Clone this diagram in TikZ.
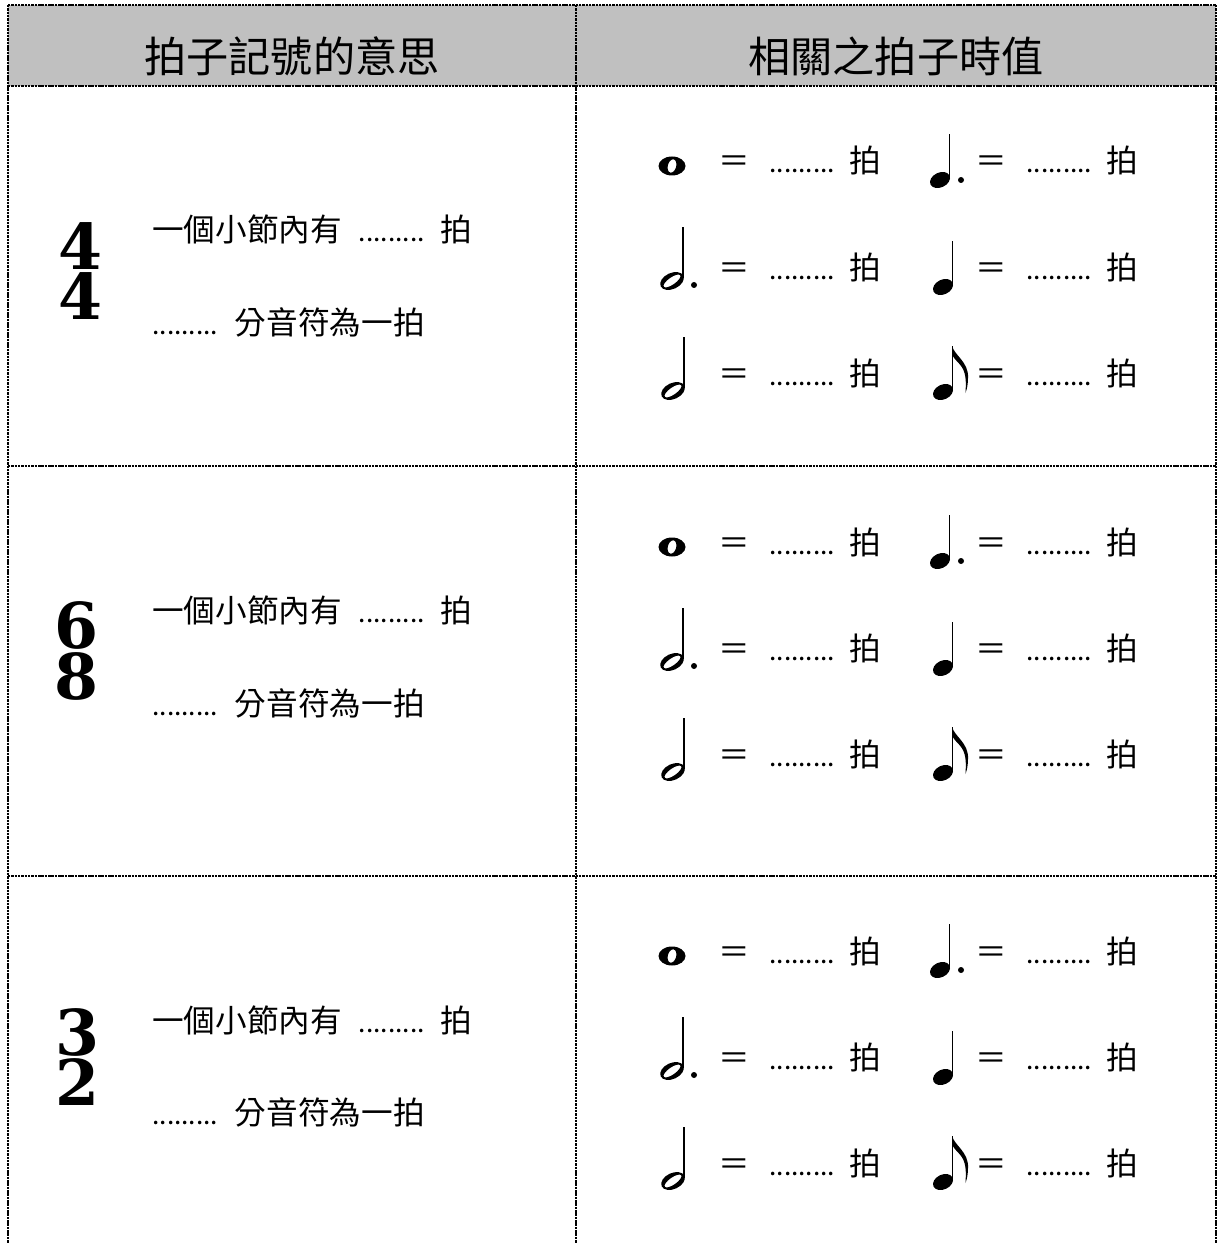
\documentclass[tikz,border=0pt]{standalone}
\usepackage{fontspec}
\usetikzlibrary{calc}
\newfontfamily\cjk{Noto Sans CJK TC}
\newfontfamily\sigfont{DejaVu Serif}
\definecolor{headgray}{RGB}{192,192,192}
\def\blankdots{{\fontsize{15pt}{15pt}\selectfont .........}}
\tikzset{
  rule/.style={line width=1.1pt, dash pattern=on 1.4pt off 0.5pt},
  headtext/.style={inner sep=0pt, font=\cjk\fontsize{24pt}{24pt}\selectfont},
  cell/.style={inner sep=0pt, font=\cjk\fontsize{18pt}{18pt}\selectfont},
  sig/.style={inner sep=0pt, align=center, font=\sigfont\bfseries\fontsize{36pt}{28.5pt}\selectfont},
  stem/.style={line width=1pt}
}
\def\augdot(#1,#2){\fill (#1,#2) circle (3);}
\def\wholenote(#1,#2){%
  \begin{scope}[shift={(#1,#2)}]
    \fill[even odd rule] (0,0) circle[x radius=13.5, y radius=9.5] (0,0) circle[x radius=4.2, y radius=6.8, rotate=-15];
  \end{scope}}
\def\halfnote(#1,#2){%
  \begin{scope}[shift={(#1,#2)}]
    \fill[even odd rule] (0,0) circle[x radius=12.5, y radius=8, rotate=25] (0,0) circle[x radius=10, y radius=3.6, rotate=35];
    \draw[stem] (11.2,3) -- (11.2,54);
  \end{scope}}
\def\quarternote(#1,#2){%
  \begin{scope}[shift={(#1,#2)}]
    \fill (0,0) circle[x radius=10.5, y radius=7.4, rotate=25];
    \draw[stem] (9.6,2) -- (9.6,46);
  \end{scope}}
\def\eighthnote(#1,#2){%
  \quarternote(#1,#2)
  \begin{scope}[shift={(#1,#2)}]
    \fill (9.1,46) .. controls (11,37) and (26,30) .. (25,14) .. controls (25,8) and (24,3) .. (22.5,-1) .. controls (23,8) and (23,14) .. (21.5,19) .. controls (19,28) and (12,31) .. (9.1,37) -- cycle;
  \end{scope}}
\def\beatline(#1,#2)#3{%
  \node[cell, anchor=base] (#3eq) at (#1,#2) {＝};
  \node[cell, anchor=base west] (#3dots) at ($(#1,#2)+(35,0)$) {\blankdots};
  \node[cell, anchor=base] (#3beat) at ($(#1,#2)+(131,0)$) {拍};}

\begin{document}
\begin{tikzpicture}[x=0.02cm, y=0.02cm]
			\useasboundingbox (0,0) rectangle (1219,-1243);
			
			%%%%% HEADER %%%%%
			\fill[headgray] (8,-5) rectangle (1216,-86);
			\node[headtext, anchor=base] (headL) at (292,-73) {拍子記號的意思};
			\node[headtext, anchor=base] (headR) at (896,-73) {相關之拍子時值};
			
			\draw[rule] (8,-5) -- (1216,-5);
			\draw[rule] (8,-86) -- (1216,-86);
			\draw[rule] (8,-466) -- (1216,-466);
			\draw[rule] (8,-876) -- (1216,-876);
			\draw[rule] (8,-5) -- (8,-1243);
			\draw[rule] (576,-5) -- (576,-1243);
			\draw[rule] (1216,-5) -- (1216,-1243);
			
			%%%%% 4/4 %%%%%
			\node[sig] (sigA) at (81,-271) {4\\4};
			\node[cell, anchor=base west] (barA) at (152,-242) {一個小節內有\hspace{9.5pt}\blankdots\hspace{9pt}拍};
			\node[cell, anchor=base west] (unitA) at (152,-335) {\blankdots\hspace{9.5pt}分音符為一拍};
			
			\wholenote(672,-166)
			\beatline(734,-173){A1}
			\quarternote(940,-180) \augdot(961,-180)
			\beatline(991,-173){A2}
			\halfnote(672,-281) \augdot(694,-285)
			\beatline(734,-279){A3}
			\quarternote(943,-287)
			\beatline(991,-279){A4}
			\halfnote(673,-391)
			\beatline(734,-385){A5}
			\eighthnote(943,-392)
			\beatline(991,-385){A6}
			
			%%%%% 6/8 %%%%%
			\node[sig] (sigB) at (77,-651) {6\\8};
			\node[cell, anchor=base west] (barB) at (152,-622) {一個小節內有\hspace{9.5pt}\blankdots\hspace{9pt}拍};
			\node[cell, anchor=base west] (unitB) at (152,-715) {\blankdots\hspace{9.5pt}分音符為一拍};
			
			\wholenote(672,-547)
			\beatline(734,-554){B1}
			\quarternote(940,-561) \augdot(961,-561)
			\beatline(991,-554){B2}
			\halfnote(672,-662) \augdot(694,-666)
			\beatline(734,-660){B3}
			\quarternote(943,-668)
			\beatline(991,-660){B4}
			\halfnote(673,-772)
			\beatline(734,-766){B5}
			\eighthnote(943,-773)
			\beatline(991,-766){B6}
			
			%%%%% 3/2 %%%%%
			\node[sig] (sigC) at (78,-1057) {3\\2};
			\node[cell, anchor=base west] (barC) at (152,-1032) {一個小節內有\hspace{9.5pt}\blankdots\hspace{9pt}拍};
			\node[cell, anchor=base west] (unitC) at (152,-1124) {\blankdots\hspace{9.5pt}分音符為一拍};
			
			\wholenote(672,-956)
			\beatline(734,-963){C1}
			\quarternote(940,-970) \augdot(961,-970)
			\beatline(991,-963){C2}
			\halfnote(672,-1071) \augdot(694,-1075)
			\beatline(734,-1069){C3}
			\quarternote(943,-1077)
			\beatline(991,-1069){C4}
			\halfnote(673,-1181)
			\beatline(734,-1175){C5}
			\eighthnote(943,-1182)
			\beatline(991,-1175){C6}
			
			%%%%% END %%%%%
\end{tikzpicture}
\end{document}
